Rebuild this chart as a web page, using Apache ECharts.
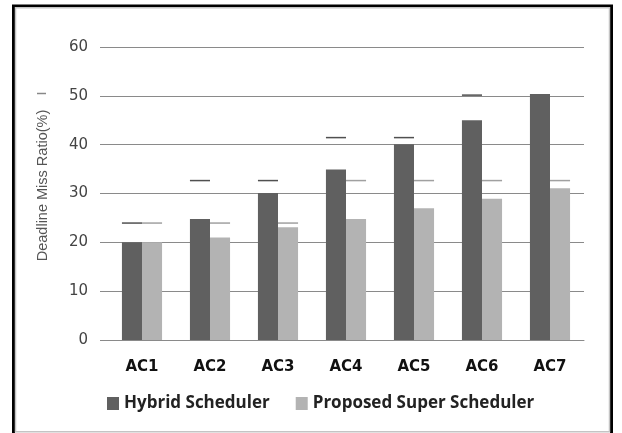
<!DOCTYPE html>
<html>
<head>
<meta charset="utf-8">
<script src="https://cdn.jsdelivr.net/npm/echarts@6/dist/echarts.min.js"></script>
<style>
  html, body { margin: 0; padding: 0; background: #fff; }
  #chart { width: 622px; height: 433px; }
</style>
</head>
<body>
<div id="chart"></div>
<script>
// data
const categories = ['AC1', 'AC2', 'AC3', 'AC4', 'AC5', 'AC6', 'AC7'];
const hybrid = [20, 24.8, 30.1, 34.9, 40.1, 45, 50.4];
const proposed = [20, 21, 23.1, 24.8, 27, 28.9, 31.1];
// the short leftover marks above the bars
const hybridMarks = [24.1, 32.8, 32.8, 41.6, 41.6, 50.3, null];
const proposedMarks = [24.1, 24.1, 24.1, 32.8, 32.8, 32.8, 32.8];
const yTicks = { min: 0, max: 60, step: 10 };

const chart = echarts.init(document.getElementById('chart'));

const markSeries = (name, data, color) => ({
  name: name,
  type: 'pictorialBar',
  data: data,
  symbol: 'rect',
  symbolSize: ['100%', 1.5],
  symbolPosition: 'end',
  barGap: 0,
  barCategoryGap: '41%',
  itemStyle: { color: color },
  z: 3,
  silent: true
});

chart.setOption({
  animation: false,
  textStyle: { fontFamily: 'DejaVu Sans' },
  graphic: [
    // frame around the figure
    { type: 'rect', shape: { x: 13.5, y: 6, width: 598, height: 450 },
      style: { fill: null, stroke: '#000', lineWidth: 3 } },
    { type: 'rect', shape: { x: 15.5, y: 7.8, width: 594, height: 424 },
      style: { fill: null, stroke: '#c4c4c4', lineWidth: 1.5 } },
    { type: 'line', shape: { x1: 37, y1: 93.5, x2: 46, y2: 93.5 },
      style: { stroke: '#888', lineWidth: 1.5 } }
  ],
  legend: {
    data: ['Hybrid Scheduler', 'Proposed Super Scheduler'],
    left: 107,
    top: 395,
    padding: 0,
    itemWidth: 12,
    itemHeight: 13,
    itemGap: 26,
    icon: 'rect',
    textStyle: { fontFamily: 'Open Sans', fontWeight: 'bold', fontSize: 17, color: '#222' }
  },
  grid: { left: 108, right: 38, top: 47, bottom: 93 },
  xAxis: {
    type: 'category',
    data: categories,
    axisLine: { lineStyle: { color: '#8a8a8a', width: 1 } },
    axisTick: { show: false },
    axisLabel: {
      margin: 20,
      fontWeight: 'bold',
      fontSize: 15,
      color: '#111'
    }
  },
  yAxis: {
    type: 'value',
    min: yTicks.min,
    max: yTicks.max,
    interval: yTicks.step,
    name: 'Deadline Miss Ratio(%)',
    nameLocation: 'middle',
    nameGap: 58,
    nameTextStyle: {
      fontFamily: 'Liberation Sans',
      fontSize: 14.5,
      color: '#555',
      padding: [0, 0, 0, 16]
    },
    axisLine: { show: false },
    axisTick: { show: true, length: 8, lineStyle: { color: '#8a8a8a' } },
    splitLine: { lineStyle: { color: '#8a8a8a', width: 1 } },
    axisLabel: { margin: 20, fontSize: 15, color: '#444' }
  },
  series: [
    {
      name: 'Hybrid Scheduler',
      type: 'bar',
      data: hybrid,
      barGap: 0,
      barCategoryGap: '41%',
      itemStyle: { color: '#606060' }
    },
    {
      name: 'Proposed Super Scheduler',
      type: 'bar',
      data: proposed,
      itemStyle: { color: '#b3b3b3' }
    },
    markSeries('hybridMarks', hybridMarks, '#505050'),
    markSeries('proposedMarks', proposedMarks, '#a0a0a0')
  ]
});
</script>
</body>
</html>
